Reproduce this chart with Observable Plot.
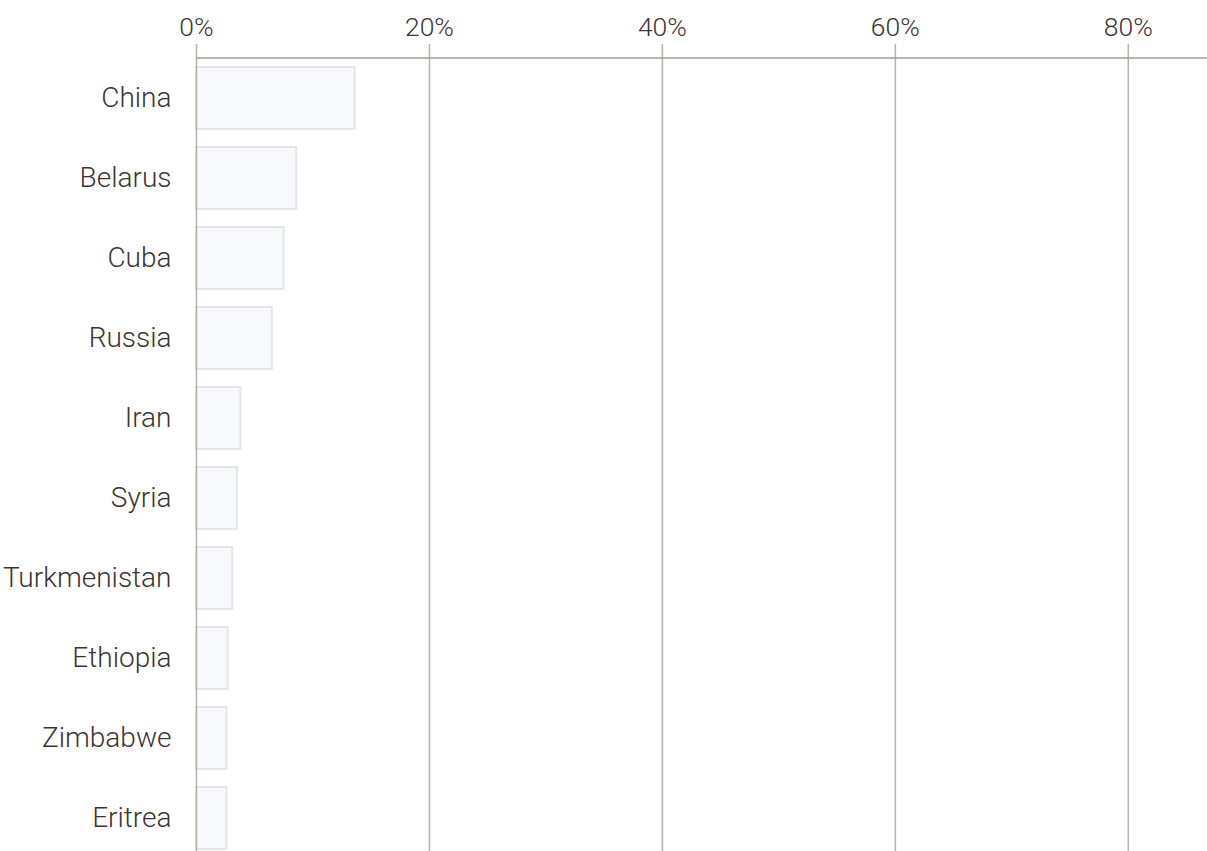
<!DOCTYPE html>
<html><head><meta charset="utf-8">
<script src="https://cdn.jsdelivr.net/npm/d3@7"></script>
<script src="https://cdn.jsdelivr.net/npm/@observablehq/plot@0.6"></script>
<style>body{margin:0;background:#fff;overflow:hidden}</style>
</head><body><div id="chart"></div>
<script>
const countries = ["China","Belarus","Cuba","Russia","Iran","Syria","Turkmenistan","Ethiopia","Zimbabwe","Eritrea"];
const shares = [13.7, 8.7, 7.6, 6.6, 3.9, 3.6, 3.2, 2.8, 2.7, 2.7];
const xTicks = [0, 20, 40, 60, 80];
const data = countries.map((c, i) => ({country: c, share: shares[i]}));
const gridColor = "#b9b0a8";
const chart = Plot.plot({
  width: 1207, height: 858,
  marginTop: 58, marginLeft: 196, marginRight: 0, marginBottom: 0,
  style: {fontFamily: "Roboto", fontSize: "25px", color: "#3a3534", background: "white"},
  x: {domain: [0, 86.8], axis: "top", ticks: xTicks, tickFormat: d => d + "%", tickSize: 15, tickPadding: 8, label: null},
  y: {domain: countries, paddingInner: 0.2, paddingOuter: 0.1, tickSize: 0, tickPadding: 25, label: null},
  marks: [
    Plot.barX(data, {x: "share", y: "country", fill: "#f8f9fc", stroke: "#e6e6e6", strokeWidth: 2, insetTop: 1, insetBottom: 1, insetRight: 1}),
    Plot.ruleX(xTicks, {stroke: gridColor, strokeWidth: 1.5})
  ]
});
document.getElementById("chart").appendChild(chart);
const svg = d3.select(chart);
svg.selectAll('[aria-label="x-axis tick"] path, [aria-label="x-axis tick"], g.tick line').attr("stroke", gridColor).attr("stroke-width", 1.5);
svg.selectAll('[aria-label="y-axis tick label"]').attr("font-size", "28px").attr("font-weight", 300);
svg.selectAll('[aria-label="x-axis tick label"]').attr("font-size", "26.5px").attr("font-weight", 300);
const xs = chart.scale("x"), ys = chart.scale("y");
svg.append("line")
  .attr("x1", xs.apply(0)).attr("x2", 1207)
  .attr("y1", ys.range[0]).attr("y2", ys.range[0])
  .attr("stroke", "#a39a92").attr("stroke-width", 1.5);
</script>
</body></html>
